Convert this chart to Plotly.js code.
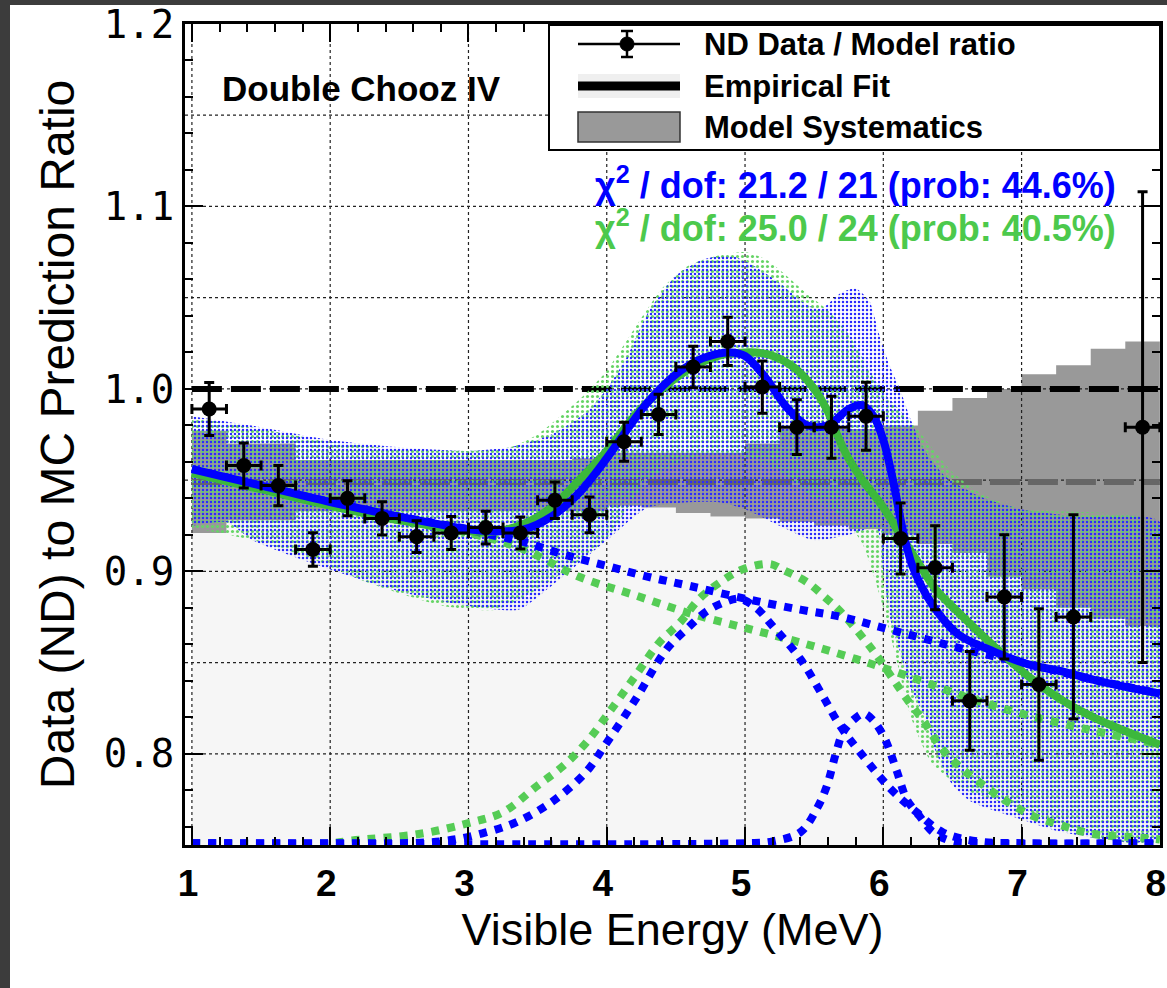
<!DOCTYPE html>
<html>
<head>
<meta charset="utf-8">
<script src="https://cdn.plot.ly/plotly-3.0.1.min.js"></script>
<style>html,body{margin:0;padding:0;background:#fff;overflow:hidden;}#chart{width:1167px;height:988px;}</style>
</head>
<body>
<div id="chart"></div>
<script>
// ---------------- data ----------------
const dataX = [1.125,1.375,1.625,1.875,2.125,2.375,2.625,2.875,3.125,3.375,3.625,3.875,4.125,4.375,4.625,4.875,5.125,5.375,5.625,5.875,6.125,6.375,6.625,6.875,7.125,7.375,7.875];
const dataY = [0.989,0.958,0.947,0.912,0.940,0.929,0.919,0.921,0.924,0.921,0.939,0.931,0.971,0.986,1.012,1.026,1.001,0.979,0.979,0.985,0.918,0.902,0.829,0.886,0.838,0.875,0.979];
const dataErr = [0.0145,0.0123,0.011,0.0092,0.0096,0.0091,0.0087,0.009,0.009,0.0088,0.010,0.0098,0.0107,0.011,0.0114,0.0132,0.0143,0.015,0.017,0.0187,0.0195,0.023,0.027,0.034,0.0415,0.056,0.129];
const binHalfWidth = 0.125;

// model systematics (step histogram band)
const sysEdges = [1.0,1.25,1.5,1.75,2.0,2.25,2.5,2.75,3.0,3.25,3.5,3.75,4.0,4.25,4.5,4.75,5.0,5.25,5.5,5.75,6.0,6.25,6.5,6.75,7.0,7.25,7.5,7.75,8.0];
const sysUpper = [0.977,0.970,0.970,0.961,0.961,0.961,0.961,0.961,0.961,0.961,0.961,0.962,0.965,0.965,0.965,0.965,0.970,0.978,0.978,0.978,0.980,0.988,0.995,1.000,1.008,1.013,1.022,1.026,1.026];
const sysLower = [0.921,0.928,0.928,0.933,0.933,0.933,0.933,0.933,0.933,0.933,0.933,0.933,0.936,0.935,0.932,0.930,0.929,0.927,0.925,0.923,0.920,0.915,0.910,0.897,0.890,0.880,0.874,0.870,0.870];
const sysNominal = 0.949;
const unity = 1.0;
const refLineX = [1.0, 8.0];

// blue fit uncertainty band
const blueUpX = [1.0,1.5,2.0,2.5,3.0,3.3,3.6,3.85,4.0,4.15,4.3,4.5,4.7,4.9,5.05,5.25,5.45,5.55,5.7,5.8,5.9,5.97,6.05,6.12,6.2,6.3,6.45,6.7,7.0,7.4,8.0];
const blueUpY = [0.985,0.979,0.972,0.968,0.966,0.968,0.975,0.987,1.000,1.018,1.042,1.062,1.071,1.073,1.068,1.058,1.046,1.044,1.053,1.055,1.048,1.030,1.012,1.000,0.983,0.966,0.952,0.941,0.934,0.930,0.927];
const blueLoX = [1.0,1.25,1.44,2.0,2.5,3.0,3.36,3.6,4.0,4.3,4.8,5.0,5.25,5.5,5.75,5.95,6.0,6.05,6.12,6.19,6.31,6.38,6.5,6.63,7.0,7.3,8.0];
const blueLoY = [0.925,0.927,0.917,0.901,0.889,0.881,0.879,0.892,0.917,0.935,0.938,0.934,0.925,0.917,0.920,0.924,0.900,0.874,0.856,0.837,0.819,0.801,0.783,0.774,0.764,0.757,0.754];

// green fit uncertainty band
const greenUpX = [1.0,1.5,2.0,2.5,3.0,3.3,3.5,3.8,4.0,4.2,4.4,4.6,4.8,5.0,5.15,5.3,5.45,5.6,5.75,5.9,6.0,6.1,6.21,6.34,6.49,6.7,7.0,8.0];
const greenUpY = [0.984,0.978,0.971,0.967,0.966,0.968,0.975,0.994,1.010,1.033,1.055,1.068,1.073,1.075,1.071,1.062,1.052,1.043,1.030,1.010,0.998,0.990,0.981,0.969,0.955,0.943,0.934,0.925];
const greenLoX = [1.0,1.5,1.83,2.3,2.82,3.2,3.6,4.0,4.3,4.6,4.83,5.05,5.25,5.5,5.7,5.85,6.0,6.1,6.2,6.35,6.6,7.0,7.4,7.7,8.0];
const greenLoY = [0.924,0.916,0.908,0.893,0.881,0.879,0.895,0.918,0.950,0.962,0.965,0.962,0.955,0.940,0.930,0.915,0.880,0.850,0.820,0.795,0.780,0.770,0.757,0.752,0.750];

// fits
const blueFitX = [1.0,1.5,2.0,2.5,3.0,3.2,3.4,3.6,3.8,4.0,4.15,4.3,4.5,4.7,4.9,5.0,5.15,5.3,5.45,5.6,5.75,5.85,5.93,6.0,6.07,6.14,6.21,6.31,6.43,6.55,6.8,7.05,7.3,7.55,8.0];
const blueFitY = [0.956,0.947,0.938,0.930,0.923,0.922,0.923,0.930,0.943,0.962,0.978,0.993,1.008,1.017,1.020,1.018,1.006,0.990,0.980,0.980,0.989,0.991,0.985,0.972,0.950,0.923,0.903,0.887,0.874,0.865,0.856,0.849,0.845,0.840,0.833];
const greenFitX = [1.0,1.5,2.0,2.5,3.0,3.2,3.4,3.6,3.8,4.0,4.2,4.4,4.6,4.8,5.0,5.16,5.35,5.49,5.59,5.66,5.74,5.85,6.0,6.14,6.25,6.38,6.55,6.8,7.04,7.28,7.52,8.0];
const greenFitY = [0.954,0.945,0.936,0.928,0.922,0.922,0.926,0.935,0.950,0.966,0.985,1.000,1.011,1.018,1.020,1.019,1.012,1.001,0.989,0.976,0.963,0.950,0.935,0.918,0.905,0.890,0.877,0.859,0.843,0.830,0.820,0.805];

// fit components (dotted)
const blueContX = [1.0,1.5,2.0,2.5,3.0,3.1,3.4,3.7,4.0,4.3,4.6,5.0,5.4,5.7,6.0,6.3,6.6,7.0,7.5,8.0];
const blueContY = [0.956,0.947,0.938,0.930,0.923,0.921,0.916,0.909,0.903,0.897,0.892,0.885,0.879,0.875,0.869,0.863,0.857,0.850,0.841,0.833];
const greenContX = [1.0,1.5,2.0,2.5,3.0,3.4,3.8,4.2,4.6,5.0,5.4,5.8,6.2,6.6,7.0,7.5,8.0];
const greenContY = [0.954,0.945,0.936,0.928,0.921,0.912,0.897,0.887,0.877,0.869,0.861,0.852,0.842,0.831,0.822,0.813,0.805];
const blueGausX = [1.0,2.0,2.8,3.13,3.36,3.61,3.85,3.99,4.21,4.43,4.6,4.72,4.85,4.96,5.08,5.2,5.4,5.56,5.69,5.83,6.05,6.24,6.43,6.68,7.0,8.0];
const blueGausY = [0.751,0.751,0.752,0.757,0.763,0.774,0.790,0.805,0.830,0.857,0.870,0.878,0.883,0.885,0.880,0.870,0.852,0.832,0.815,0.801,0.781,0.768,0.757,0.752,0.751,0.751];
const blueSmallX = [1.0,5.0,5.2,5.4,5.52,5.59,5.66,5.71,5.79,5.86,5.93,6.0,6.04,6.1,6.17,6.26,6.36,6.5,6.7,8.0];
const blueSmallY = [0.751,0.751,0.752,0.757,0.770,0.782,0.801,0.812,0.819,0.822,0.818,0.810,0.803,0.790,0.775,0.766,0.757,0.752,0.751,0.751];
const greenGausX = [1.0,2.0,2.16,2.64,3.0,3.25,3.49,3.68,3.85,4.02,4.21,4.38,4.53,4.67,4.82,4.98,5.18,5.27,5.45,5.59,5.69,5.88,5.97,6.07,6.17,6.29,6.41,6.55,6.72,6.89,7.08,7.28,7.52,7.88,8.0];
const greenGausY = [0.751,0.751,0.7525,0.756,0.762,0.768,0.782,0.793,0.806,0.823,0.843,0.861,0.872,0.885,0.894,0.901,0.904,0.901,0.894,0.885,0.878,0.861,0.852,0.841,0.830,0.818,0.804,0.793,0.783,0.774,0.766,0.761,0.756,0.754,0.753];

// axes / grid
const xRange = [0.95, 8.001];
const yRange = [0.75, 1.2];
const gridX = [1,2,3,4,5,6,7];
const gridY = [0.8,0.85,0.9,0.95,1.0,1.05,1.1,1.15];

// texts
const labelTitle = 'Double Chooz IV';
const chiBlue = '\u03C7<sup>2</sup> / dof: 21.2 / 21 (prob: 44.6%)';
const chiGreen = '\u03C7<sup>2</sup> / dof: 25.0 / 24 (prob: 40.5%)';
const legendNames = ['ND Data / Model ratio', 'Empirical Fit', 'Model Systematics'];
const xTitle = 'Visible Energy (MeV)';
const yTitle = 'Data (ND) to MC Prediction Ratio';

// ---------------- build ----------------
const BLUE = '#0000ff', GREEN = '#55cc55', SANS = 'Liberation Sans, Arial, sans-serif';
const W = 1167, H = 988, ML = 185, MR = 7, MT = 24, MB = 143;
const PW = W - ML - MR, PH = H - MT - MB;
const px = v => (v - ML) / PW;          // pixel -> paper x
const py = v => (H - MB - v) / PH;      // pixel -> paper y

function band(upX, upY, loX, loY) {
  return {x: upX.concat(loX.slice().reverse()), y: upY.concat(loY.slice().reverse())};
}
const bb = band(blueUpX, blueUpY, blueLoX, blueLoY);
const gb = band(greenUpX, greenUpY, greenLoX, greenLoY);

const gx = [], gy = [];
gridX.forEach(v => { gx.push(v, v, null); gy.push(yRange[0], yRange[1], null); });
gridY.forEach(v => { gx.push(xRange[0], xRange[1], null); gy.push(v, v, null); });

const dotted = (x, y, c) => ({x: x, y: y, mode: 'lines', line: {color: c, width: 8, dash: 'dot', shape: 'spline'},
                              showlegend: false, hoverinfo: 'skip'});

const traces = [
  {x: sysEdges, y: sysLower, mode: 'lines', line: {shape: 'hv', width: 0}, fill: 'tozeroy',
   fillcolor: '#f6f6f6', showlegend: false, hoverinfo: 'skip'},
  {x: sysEdges, y: sysUpper, mode: 'lines', line: {shape: 'hv', width: 0}, fill: 'tonexty',
   fillcolor: '#999999', showlegend: false, hoverinfo: 'skip', name: legendNames[2]},
  {x: gx, y: gy, mode: 'lines', line: {color: '#222', width: 1.2, dash: 'dot'}, showlegend: false, hoverinfo: 'skip'},
  {x: refLineX, y: [sysNominal, sysNominal], mode: 'lines', line: {color: '#666666', width: 6, dash: '30px,8px'}, showlegend: false, hoverinfo: 'skip'},
  {x: refLineX, y: [unity, unity], mode: 'lines', line: {color: '#000', width: 6, dash: '30px,9px'}, showlegend: false, hoverinfo: 'skip'},
  {x: gb.x, y: gb.y, mode: 'lines', line: {width: 0, shape: 'spline', smoothing: 0.6}, fill: 'toself',
   fillcolor: 'rgba(0,0,0,0)', fillpattern: {shape: '.', fgcolor: '#66d466', size: 5, solidity: 0.3},
   showlegend: false, hoverinfo: 'skip'},
  {x: bb.x, y: bb.y, mode: 'lines', line: {width: 0, shape: 'spline', smoothing: 0.6}, fill: 'toself',
   fillcolor: 'rgba(0,0,0,0)', fillpattern: {shape: '.', fgcolor: '#2a2aff', size: 4, solidity: 0.3},
   showlegend: false, hoverinfo: 'skip'},
  dotted(greenContX, greenContY, GREEN),
  dotted(greenGausX, greenGausY, GREEN),
  dotted(blueContX, blueContY, BLUE),
  dotted(blueGausX, blueGausY, BLUE),
  dotted(blueSmallX, blueSmallY, BLUE),
  {x: greenFitX, y: greenFitY, mode: 'lines', line: {color: '#3cb83c', width: 8, shape: 'spline'}, showlegend: false, hoverinfo: 'skip'},
  {x: blueFitX, y: blueFitY, mode: 'lines', line: {color: BLUE, width: 8, shape: 'spline'}, showlegend: false, hoverinfo: 'skip', name: legendNames[1]},
  {x: dataX, y: dataY, mode: 'markers', marker: {color: '#000', size: 15},
   error_y: {type: 'data', array: dataErr, color: '#000', thickness: 3, width: 5},
   error_x: {type: 'constant', value: binHalfWidth, color: '#000', thickness: 3, width: 5},
   showlegend: false, name: legendNames[0]}
];

// legend box drawn in paper coordinates (symbols) + text annotations
const legBox = {x0: 549, x1: 1160, y0: 25, y1: 150};
const symX0 = 578, symX1 = 680, symXc = 627, textX = 702;
const rowY = [44, 86, 127];

const shapes = [
  {type: 'rect', xref: 'paper', yref: 'paper', x0: px(0), x1: px(10), y0: py(H + 2), y1: py(-2),
   fillcolor: '#3c3c3c', line: {width: 0}, layer: 'above'},
  {type: 'rect', xref: 'paper', yref: 'paper', x0: px(0), x1: px(W + 2), y0: py(5), y1: py(-2),
   fillcolor: '#3c3c3c', line: {width: 0}, layer: 'above'},
  {type: 'rect', xref: 'paper', yref: 'paper', x0: px(legBox.x0), x1: px(legBox.x1), y0: py(legBox.y1), y1: py(legBox.y0),
   fillcolor: '#ffffff', line: {color: '#000', width: 2}, layer: 'above'},
  {type: 'line', xref: 'paper', yref: 'paper', x0: px(symX0), x1: px(symX1), y0: py(rowY[0]), y1: py(rowY[0]),
   line: {color: '#000', width: 2.5}, layer: 'above'},
  {type: 'line', xref: 'paper', yref: 'paper', x0: px(symXc), x1: px(symXc), y0: py(rowY[0] - 13), y1: py(rowY[0] + 13),
   line: {color: '#000', width: 2.5}, layer: 'above'},
  {type: 'line', xref: 'paper', yref: 'paper', x0: px(symXc - 6), x1: px(symXc + 6), y0: py(rowY[0] - 13), y1: py(rowY[0] - 13),
   line: {color: '#000', width: 2.5}, layer: 'above'},
  {type: 'line', xref: 'paper', yref: 'paper', x0: px(symXc - 6), x1: px(symXc + 6), y0: py(rowY[0] + 13), y1: py(rowY[0] + 13),
   line: {color: '#000', width: 2.5}, layer: 'above'},
  {type: 'circle', xref: 'paper', yref: 'paper', x0: px(symXc - 7), x1: px(symXc + 7), y0: py(rowY[0] + 7), y1: py(rowY[0] - 7),
   fillcolor: '#000', line: {color: '#000', width: 1}, layer: 'above'},
  {type: 'rect', xref: 'paper', yref: 'paper', x0: px(symX0), x1: px(symX1), y0: py(rowY[1] + 12), y1: py(rowY[1] - 12),
   fillcolor: '#efefef', line: {width: 0}, layer: 'above'},
  {type: 'line', xref: 'paper', yref: 'paper', x0: px(symX0), x1: px(symX1), y0: py(rowY[1]), y1: py(rowY[1]),
   line: {color: '#000', width: 9}, layer: 'above'},
  {type: 'rect', xref: 'paper', yref: 'paper', x0: px(symX0), x1: px(symX1), y0: py(rowY[2] + 15), y1: py(rowY[2] - 15),
   fillcolor: '#999999', line: {color: '#333', width: 1.5}, layer: 'above'}
];

const annotations = [
  {xref: 'paper', yref: 'paper', x: px(220), y: py(88), xanchor: 'left', yanchor: 'middle', showarrow: false,
   text: '<b>' + labelTitle + '</b>', font: {family: SANS, size: 35, color: '#000'}},
  {xref: 'paper', yref: 'paper', x: px(1118), y: py(183), xanchor: 'right', yanchor: 'middle', showarrow: false,
   text: '<b>' + chiBlue + '</b>', font: {family: SANS, size: 36, color: BLUE}},
  {xref: 'paper', yref: 'paper', x: px(1118), y: py(226), xanchor: 'right', yanchor: 'middle', showarrow: false,
   text: '<b>' + chiGreen + '</b>', font: {family: SANS, size: 36, color: '#4cc94c'}}
];
legendNames.forEach((t, i) => annotations.push({
  xref: 'paper', yref: 'paper', x: px(textX), y: py(rowY[i]), xanchor: 'left', yanchor: 'middle', showarrow: false,
  text: '<b>' + t + '</b>', font: {family: SANS, size: 31, color: '#000'}
}));

const layout = {
  width: W, height: H,
  margin: {l: ML, r: MR, t: MT, b: MB},
  paper_bgcolor: '#ffffff', plot_bgcolor: '#ffffff',
  showlegend: false,
  xaxis: {range: xRange, tickmode: 'linear', tick0: 1, dtick: 1, ticks: 'inside', ticklen: 18, tickwidth: 2,
          tickcolor: '#000', showline: true, linewidth: 3, linecolor: '#000', mirror: 'allticks',
          showgrid: false, zeroline: false, ticklabelstandoff: 4, ticklabeloverflow: 'allow', ticklabelshift: -4,
          minor: {tick0: 1, dtick: 0.2, ticks: 'inside', ticklen: 8, tickwidth: 2, tickcolor: '#000', showgrid: false},
          tickfont: {family: SANS, size: 37, color: '#000', weight: 'bold'},
          title: {text: xTitle, font: {family: SANS, size: 45, color: '#000'}, standoff: 10}},
  yaxis: {range: yRange, tickmode: 'linear', tick0: 0.8, dtick: 0.1, tickformat: '.1f', ticks: 'inside', ticklen: 18,
          tickwidth: 2, tickcolor: '#000', showline: true, linewidth: 3, linecolor: '#000', mirror: 'allticks',
          showgrid: false, zeroline: false, ticklabelstandoff: 0, ticklabeloverflow: 'allow',
          minor: {tick0: 0.8, dtick: 0.02, ticks: 'inside', ticklen: 8, tickwidth: 2, tickcolor: '#000', showgrid: false},
          tickfont: {family: 'DejaVu Sans Mono, monospace', size: 39, color: '#000'},
          title: {text: yTitle, font: {family: SANS, size: 48, color: '#000'}, standoff: 14}},
  annotations: annotations,
  shapes: shapes
};

Plotly.newPlot('chart', traces, layout, {displayModeBar: false, staticPlot: true});
</script>
</body>
</html>
